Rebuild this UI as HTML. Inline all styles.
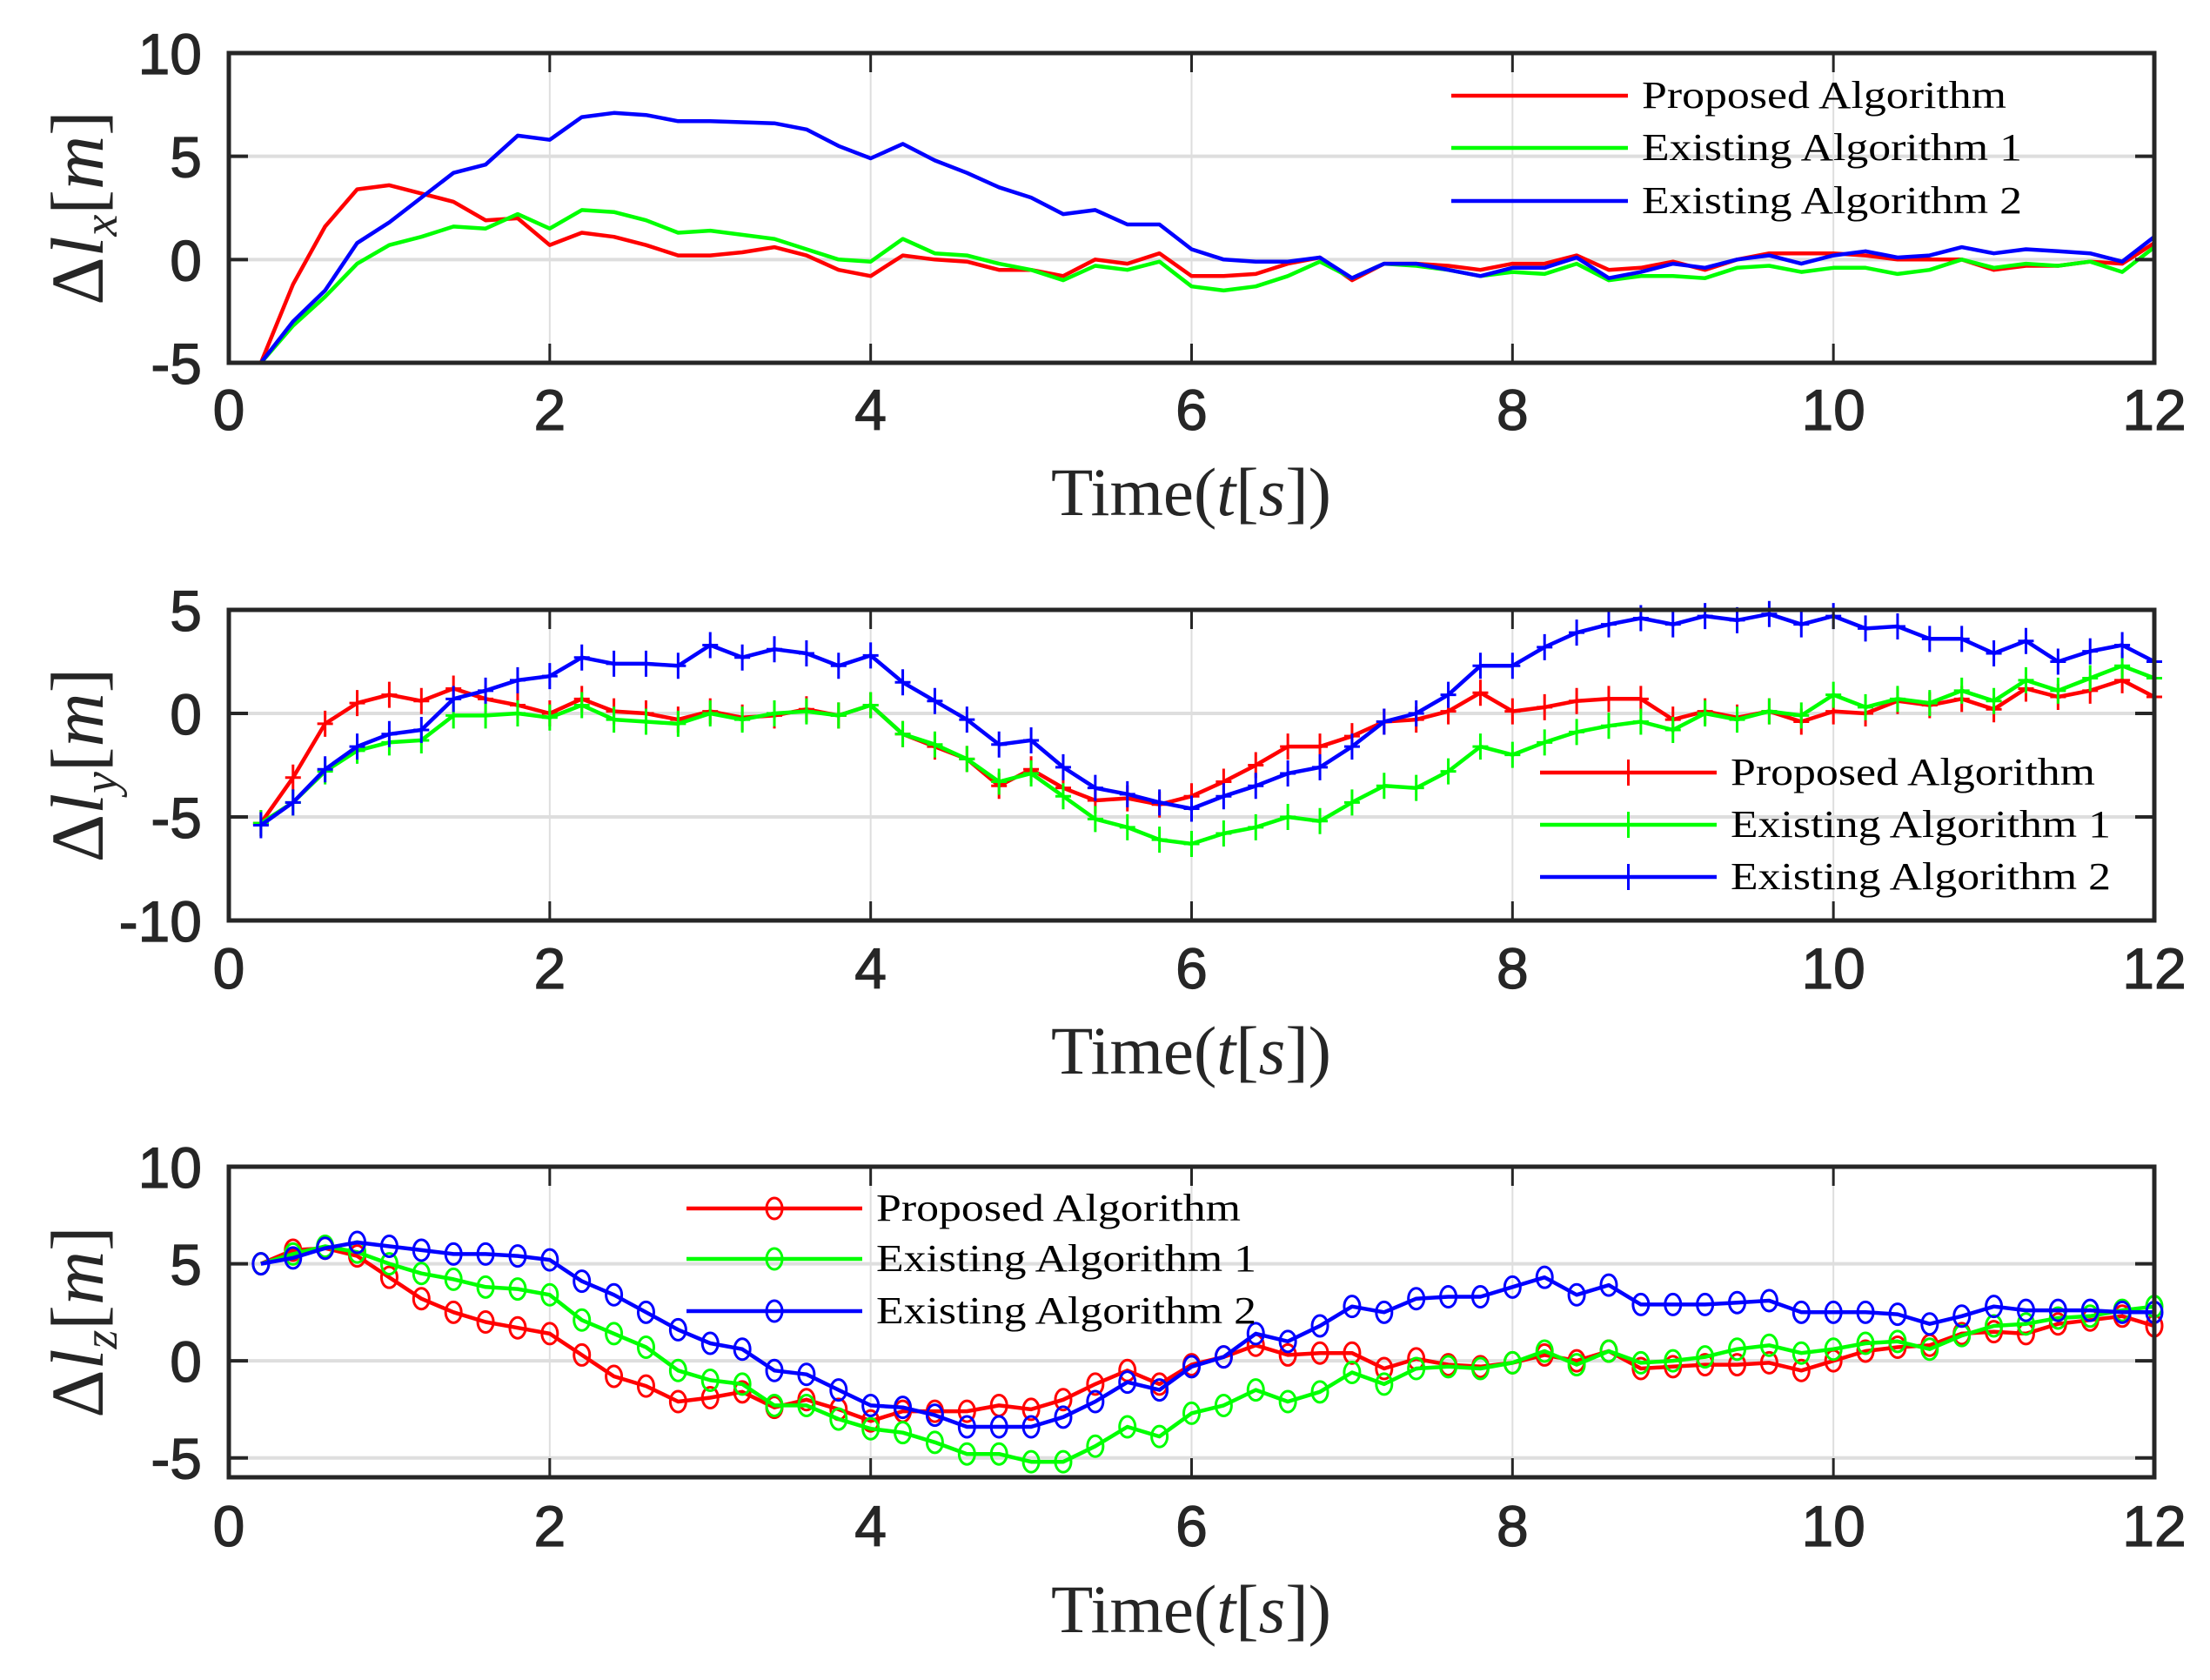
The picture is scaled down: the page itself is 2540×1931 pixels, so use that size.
<!DOCTYPE html>
<html><head><meta charset="utf-8"><style>
html,body{margin:0;padding:0;background:#fff;}
svg{display:block;}
.tick{font-family:"Liberation Sans",sans-serif;font-size:66px;fill:#262626;stroke:#262626;stroke-width:1.2px;}
.ttl{font-family:"Liberation Serif",serif;font-size:78px;fill:#262626;}
.ylab{font-family:"Liberation Serif",serif;font-size:86px;fill:#262626;}
.leg{font-family:"Liberation Serif",serif;font-size:44px;fill:#000;}
</style></head><body>
<svg id="chart" width="2540" height="1931" viewBox="0 0 2540 1931" xmlns="http://www.w3.org/2000/svg"></svg>
<script>
const times = [];
for (let i = 1; i <= 60; i++) times.push(+(i * 0.2).toFixed(1));
const xTicks = [0, 2, 4, 6, 8, 10, 12];
const seriesNames = ["Proposed Algorithm", "Existing Algorithm 1", "Existing Algorithm 2"];
const lxRed = [-5,-1.2,1.6,3.4,3.6,3.2,2.8,1.9,2.0,0.7,1.3,1.1,0.7,0.2,0.2,0.35,0.6,0.2,-0.5,-0.8,0.2,0,-0.1,-0.5,-0.5,-0.8,0,-0.2,0.3,-0.8,-0.8,-0.7,-0.2,0.1,-1.0,-0.2,-0.2,-0.3,-0.5,-0.2,-0.2,0.2,-0.5,-0.4,-0.1,-0.5,0,0.3,0.3,0.3,0.2,0,0,0,-0.5,-0.3,-0.3,-0.1,-0.2,0.8];
const lxGreen = [-5,-3.2,-1.8,-0.2,0.7,1.1,1.6,1.5,2.2,1.5,2.4,2.3,1.9,1.3,1.4,1.2,1.0,0.5,0,-0.1,1.0,0.3,0.2,-0.2,-0.5,-1.0,-0.3,-0.5,-0.1,-1.3,-1.5,-1.3,-0.8,-0.1,-0.9,-0.2,-0.3,-0.5,-0.8,-0.6,-0.7,-0.2,-1.0,-0.8,-0.8,-0.9,-0.4,-0.3,-0.6,-0.4,-0.4,-0.7,-0.5,0,-0.4,-0.2,-0.3,-0.1,-0.6,0.6];
const lxBlue = [-5,-3.0,-1.5,0.8,1.8,3.0,4.2,4.6,6.0,5.8,6.9,7.1,7.0,6.7,6.7,6.65,6.6,6.3,5.5,4.9,5.6,4.8,4.2,3.5,3.0,2.2,2.4,1.7,1.7,0.5,0,-0.1,-0.1,0.1,-0.9,-0.2,-0.2,-0.5,-0.8,-0.4,-0.4,0.1,-0.9,-0.6,-0.2,-0.4,0,0.2,-0.2,0.2,0.4,0.1,0.2,0.6,0.3,0.5,0.4,0.3,-0.1,1.1];
const lyRed = [-5.3,-3.1,-0.5,0.5,0.9,0.6,1.2,0.7,0.4,0,0.7,0.1,0,-0.3,0.1,-0.2,-0.1,0.2,-0.1,0.4,-1.0,-1.6,-2.2,-3.5,-2.7,-3.6,-4.2,-4.1,-4.4,-4.0,-3.3,-2.5,-1.6,-1.6,-1.1,-0.4,-0.3,0.1,1.0,0.1,0.3,0.6,0.7,0.7,-0.3,0.1,-0.2,0.1,-0.4,0.1,0.0,0.6,0.4,0.7,0.2,1.2,0.8,1.1,1.6,0.8];
const lyGreen = [-5.3,-4.3,-2.8,-1.8,-1.4,-1.3,-0.1,-0.1,0.0,-0.2,0.4,-0.3,-0.4,-0.5,0,-0.3,0,0.1,-0.1,0.4,-1.0,-1.5,-2.2,-3.3,-2.9,-4.0,-5.1,-5.5,-6.1,-6.3,-5.8,-5.5,-5.0,-5.2,-4.3,-3.5,-3.6,-2.8,-1.6,-2.0,-1.4,-0.9,-0.6,-0.4,-0.8,0,-0.3,0.1,-0.1,0.9,0.3,0.7,0.5,1.1,0.6,1.6,1.1,1.7,2.3,1.7];
const lyBlue = [-5.4,-4.3,-2.7,-1.6,-1.0,-0.8,0.7,1.1,1.6,1.8,2.7,2.4,2.4,2.3,3.3,2.7,3.1,2.9,2.3,2.8,1.5,0.6,-0.3,-1.5,-1.3,-2.6,-3.6,-3.9,-4.3,-4.6,-4.0,-3.5,-2.9,-2.6,-1.6,-0.4,0.0,0.9,2.3,2.3,3.2,3.9,4.3,4.6,4.3,4.7,4.5,4.8,4.3,4.7,4.1,4.2,3.6,3.6,2.9,3.5,2.5,3.0,3.3,2.5];
const lzRed = [5.0,5.7,5.8,5.4,4.3,3.2,2.5,2.0,1.7,1.4,0.3,-0.8,-1.3,-2.1,-1.9,-1.6,-2.4,-2.0,-2.5,-3.1,-2.6,-2.6,-2.6,-2.3,-2.5,-2.0,-1.2,-0.5,-1.2,-0.2,0.2,0.8,0.3,0.4,0.4,-0.4,0.1,-0.2,-0.3,-0.1,0.3,0,0.5,-0.4,-0.3,-0.2,-0.2,-0.1,-0.5,0.0,0.5,0.7,0.8,1.4,1.5,1.4,1.9,2.1,2.3,1.8];
const lzGreen = [5.0,5.5,5.9,5.6,5.0,4.5,4.2,3.8,3.7,3.4,2.1,1.4,0.7,-0.5,-1.0,-1.2,-2.3,-2.3,-3.0,-3.5,-3.7,-4.2,-4.8,-4.8,-5.2,-5.2,-4.4,-3.4,-3.9,-2.7,-2.3,-1.5,-2.1,-1.6,-0.6,-1.2,-0.4,-0.3,-0.4,-0.1,0.5,-0.2,0.5,-0.1,0,0.2,0.6,0.8,0.4,0.6,0.9,1.0,0.6,1.3,1.8,1.9,2.2,2.3,2.6,2.8];
const lzBlue = [5.0,5.3,5.8,6.1,5.9,5.7,5.5,5.5,5.4,5.2,4.1,3.4,2.5,1.6,0.9,0.6,-0.5,-0.7,-1.5,-2.3,-2.4,-2.8,-3.4,-3.4,-3.4,-2.9,-2.1,-1.1,-1.5,-0.3,0.2,1.4,1.0,1.8,2.8,2.5,3.2,3.3,3.3,3.8,4.3,3.4,3.9,2.9,2.9,2.9,3.0,3.1,2.5,2.5,2.5,2.4,1.9,2.3,2.8,2.6,2.6,2.6,2.5,2.5];
const colors = ["#ff0000", "#00ff00", "#0000ff"];

const NS = "http://www.w3.org/2000/svg";
const svg = document.getElementById("chart");
function mk(tag, attrs, parent) {
  const e = document.createElementNS(NS, tag);
  for (const k in attrs) e.setAttribute(k, attrs[k]);
  (parent || svg).appendChild(e);
  return e;
}

const X0 = 263, X1 = 2476;
const panels = [
  {name:"lx", sub:"x", top:61, bot:417, ymin:-5, ymax:10, yticks:[-5,0,5,10], data:[lxRed,lxGreen,lxBlue], marker:"none",
   tickY:494, titleY:592, leg:{x1:1668,x2:1871,ys:[110,170,231],tx:1887}},
  {name:"ly", sub:"y", top:701, bot:1058, ymin:-10, ymax:5, yticks:[-10,-5,0,5], data:[lyRed,lyGreen,lyBlue], marker:"plus",
   tickY:1136, titleY:1234, leg:{x1:1770,x2:1973,ys:[888,948,1008],tx:1989}},
  {name:"lz", sub:"z", top:1341, bot:1698, ymin:-6, ymax:10, yticks:[-5,0,5,10], data:[lzRed,lzGreen,lzBlue], marker:"circle",
   tickY:1777, titleY:1876, leg:{x1:789,x2:991,ys:[1389,1447,1507],tx:1007}}
];

panels.forEach(p => {
  const g = mk("g", {});
  
  
  const xs = v => X0 + (v - 0) / 12 * (X1 - X0);
  const ys = v => p.bot - (v - p.ymin) / (p.ymax - p.ymin) * (p.bot - p.top);
  xTicks.forEach(t => {
    if (t > 0 && t < 12) {
      const l = mk("line", {x1:xs(t), x2:xs(t), y1:p.top, y2:p.bot, stroke:"#dedede", "stroke-width":2}, g);
      
      
    }
  });
  p.yticks.forEach(t => {
    if (ys(t) > p.top + 3 && ys(t) < p.bot - 3) {
      const l = mk("line", {x1:X0, x2:X1, y1:ys(t), y2:ys(t), stroke:"#dedede", "stroke-width":4}, g);
      
      
    }
  });
  p.data.forEach((arr, si) => {
    const pts = arr.map((v, i) => xs(times[i]).toFixed(1) + "," + ys(v).toFixed(1)).join(" ");
    const pl = mk("polyline", {points:pts, fill:"none", stroke:colors[si], "stroke-width":4.5, "stroke-linejoin":"round"}, g);
    
    
    arr.forEach((v, i) => {
      const cx = xs(times[i]), cy = ys(v);
      if (p.marker === "plus") {
        const m = mk("path", {d:`M${cx-9},${cy}H${cx+9}M${cx},${cy-15}V${cy+15}`, stroke:colors[si], "stroke-width":3, fill:"none"}, g);
        
        
      } else if (p.marker === "circle") {
        const m = mk("ellipse", {cx:cx, cy:cy, rx:9, ry:12, stroke:colors[si], "stroke-width":3, fill:"none"}, g);
        
        
      }
    });
  });
  const fr = mk("rect", {x:X0, y:p.top, width:X1-X0, height:p.bot-p.top, fill:"none", stroke:"#262626", "stroke-width":5}, g);
  
  
  xTicks.forEach(t => {
    mk("line", {x1:xs(t), x2:xs(t), y1:p.bot, y2:p.bot-22, stroke:"#262626", "stroke-width":3}, g);
    mk("line", {x1:xs(t), x2:xs(t), y1:p.top, y2:p.top+22, stroke:"#262626", "stroke-width":3}, g);
    const tx = mk("text", {x:xs(t), y:p.tickY, "text-anchor":"middle", class:"tick"}, g);
    tx.textContent = t;
    
    
  });
  p.yticks.forEach(t => {
    mk("line", {x1:X0, x2:X0+22, y1:ys(t), y2:ys(t), stroke:"#262626", "stroke-width":4}, g);
    mk("line", {x1:X1, x2:X1-22, y1:ys(t), y2:ys(t), stroke:"#262626", "stroke-width":4}, g);
    const tx = mk("text", {x:232, y:ys(t)+24, "text-anchor":"end", class:"tick"}, g);
    tx.textContent = t;
    
    
  });
  const tt = mk("text", {x:1369, y:p.titleY, "text-anchor":"middle", class:"ttl", textLength:322, lengthAdjust:"spacingAndGlyphs"}, g);
  tt.innerHTML = 'Time(<tspan font-style="italic">t</tspan>[<tspan font-style="italic">s</tspan>])';
  
  
  const cy = (p.top + p.bot) / 2;
  const yt = mk("text", {x:0, y:0, "text-anchor":"middle", class:"ylab", transform:`translate(118,${cy}) rotate(-90)`}, g);
  yt.innerHTML = 'Δ<tspan font-style="italic">l</tspan><tspan font-style="italic" font-size="56" dy="16">' + p.sub + '</tspan><tspan dy="-16">[</tspan><tspan font-style="italic">m</tspan>]';
  
  
  seriesNames.forEach((nm, si) => {
    const ly = p.leg.ys[si];
    const lg = mk("g", {}, g);
    
    
    mk("line", {x1:p.leg.x1, x2:p.leg.x2, y1:ly, y2:ly, stroke:colors[si], "stroke-width":4.5}, lg);
    const mx = (p.leg.x1 + p.leg.x2) / 2;
    if (p.marker === "plus") mk("path", {d:`M${mx-9},${ly}H${mx+9}M${mx},${ly-15}V${ly+15}`, stroke:colors[si], "stroke-width":3}, lg);
    if (p.marker === "circle") mk("ellipse", {cx:mx, cy:ly, rx:9, ry:12, stroke:colors[si], "stroke-width":3, fill:"none"}, lg);
    const t = mk("text", {x:p.leg.tx, y:ly+14, class:"leg", textLength: si === 0 ? 419 : 437, lengthAdjust:"spacingAndGlyphs"}, lg);
    t.textContent = nm;
  });
});
</script>
</body></html>
